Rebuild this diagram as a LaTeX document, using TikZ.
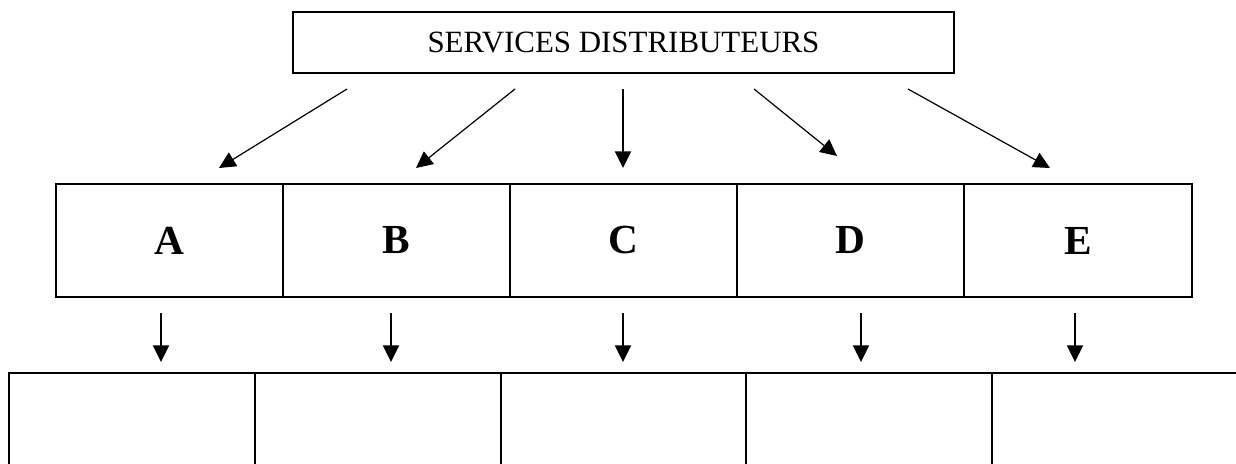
\documentclass[tikz,border=0pt]{standalone}
\usepackage{fontspec}
\setmainfont{Liberation Serif}
\usepackage{tikz}
\usetikzlibrary{fit}
\usetikzlibrary{calc}
\usetikzlibrary{arrows.meta}

\begin{document}
\begin{tikzpicture}[x=0.375pt, y=-0.375pt,
	cell/.style={draw, inner sep=0pt, line width=0.75pt},
	big/.style={font=\fontsize{15.5}{18}\selectfont\bfseries},
	arr/.style={line width=0.45pt, -{Triangle[length=6.2pt, width=6pt]}}]
	\useasboundingbox (0,0) rectangle (1236,464);
	\clip (0,0) rectangle (1236,464);

	\node[cell, fit={(293,12) (954,73)}, label={[font=\fontsize{11.6}{14}\selectfont]center:SERVICES DISTRIBUTEURS}] (S) {};	% header

	\node[cell, fit={(56,184) (283,297)}, label={[big]center:A}] (A) {};	% middle rectangles
	\node[cell, fit={(283,184) (510,297)}, label={[big]center:B}] (B) {};
	\node[cell, fit={(510,184) (737,297)}, label={[big]center:C}] (C) {};
	\node[cell, fit={(737,184) (964,297)}, label={[big]center:D}] (D) {};
	\node[cell, fit={(964,184) (1192,297)}, label={[big]center:E}] (E) {};

	\node[cell, fit={(9,373) (255,500)}] (A1) {};	% lower rectangles, cut by the page
	\node[cell, fit={(255,373) (501,500)}] (B1) {};
	\node[cell, fit={(501,373) (746,500)}] (C1) {};
	\node[cell, fit={(746,373) (992,500)}] (D1) {};
	\node[cell, fit={(992,373) (1238,500)}] (E1) {};

	\draw[arr] ($(S.south)+(-276.5,15)$) -- ($(A.north)+(49.5,-15)$);	% from the header
	\draw[arr] ($(S.south)+(-108.5,15)$) -- ($(B.north)+(19.5,-15)$);
	\draw[arr] ($(S.south)+(-0.5,15)$) -- ($(C.north)+(-0.5,-15)$);
	\draw[arr] ($(S.south)+(130.5,15)$) -- ($(D.north)+(-13.5,-27)$);
	\draw[arr] ($(S.south)+(284.5,15)$) -- ($(E.north)+(-28,-15)$);

	\draw[arr] ($(A.south)+(-8.5,15)$) -- ($(A1.north)+(29,-10)$);	% down to the lower row
	\draw[arr] ($(B.south)+(-5.5,15)$) -- ($(B1.north)+(13,-10)$);
	\draw[arr] ($(C.south)+(-0.5,15)$) -- ($(C1.north)+(-0.5,-10)$);
	\draw[arr] ($(D.south)+(10.5,15)$) -- ($(D1.north)+(-8,-10)$);
	\draw[arr] ($(E.south)+(-3,15)$) -- ($(E1.north)+(-40,-10)$);
\end{tikzpicture}
\end{document}
